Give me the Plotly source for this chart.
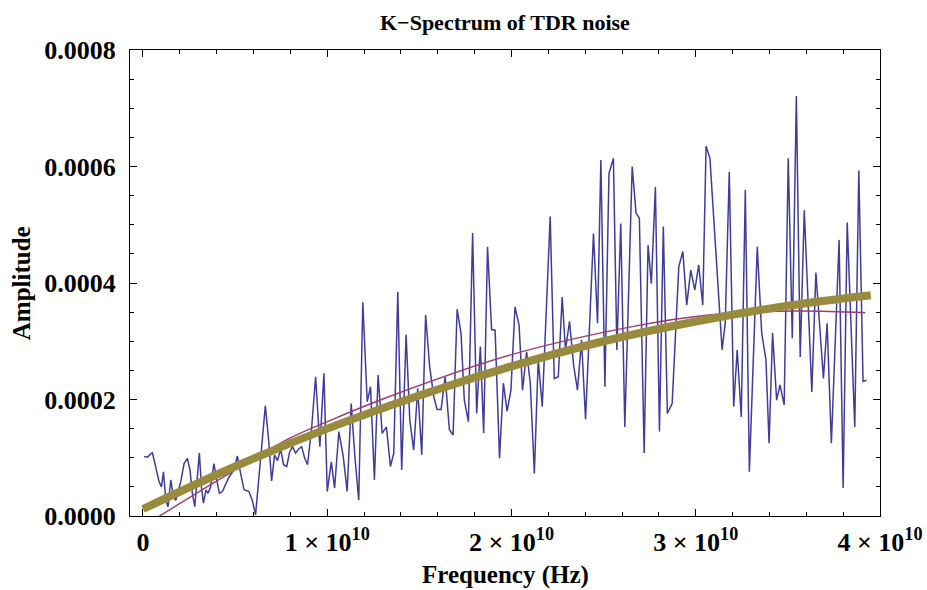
import numpy as np
import plotly.graph_objects as go

# ---- data (frequency in units of 1e10 Hz, amplitude in units of 1e-4) ----
noise_freq_e10 = [
    0.006, 0.024, 0.051, 0.069, 0.087, 0.100, 0.111, 0.124, 0.136, 0.151,
    0.165, 0.178, 0.205, 0.223, 0.241, 0.255, 0.268, 0.281, 0.295, 0.306,
    0.317, 0.328, 0.342, 0.353, 0.367, 0.385, 0.400, 0.415, 0.431, 0.449,
    0.467, 0.494, 0.512, 0.530, 0.548, 0.575, 0.593, 0.611, 0.664, 0.682,
    0.698, 0.714, 0.730, 0.747, 0.763, 0.780, 0.796, 0.812, 0.828, 0.845,
    0.861, 0.877, 0.893, 0.915, 0.937, 0.960, 0.982, 1.000, 1.022, 1.040,
    1.063, 1.087, 1.108, 1.130, 1.150, 1.171, 1.193, 1.217, 1.235, 1.256,
    1.276, 1.298, 1.321, 1.343, 1.361, 1.383, 1.404, 1.428, 1.448, 1.469,
    1.491, 1.513, 1.534, 1.556, 1.578, 1.596, 1.618, 1.640, 1.663, 1.683,
    1.705, 1.726, 1.744, 1.766, 1.789, 1.811, 1.831, 1.849, 1.870, 1.892,
    1.911, 1.935, 1.956, 1.976, 1.997, 2.019, 2.041, 2.060, 2.082, 2.102,
    2.124, 2.145, 2.167, 2.210, 2.232, 2.254, 2.275, 2.293, 2.315, 2.337,
    2.358, 2.380, 2.402, 2.445, 2.467, 2.485, 2.507, 2.529, 2.553, 2.572,
    2.593, 2.615, 2.655, 2.676, 2.694, 2.720, 2.741, 2.759, 2.781, 2.803,
    2.824, 2.846, 2.872, 2.908, 2.930, 2.951, 2.973, 2.995, 3.016, 3.038,
    3.056, 3.077, 3.115, 3.143, 3.160, 3.182, 3.206, 3.225, 3.247, 3.269,
    3.291, 3.334, 3.358, 3.381, 3.398, 3.417, 3.439, 3.457, 3.480, 3.502,
    3.524, 3.546, 3.567, 3.589, 3.630, 3.652, 3.693, 3.713, 3.736, 3.778,
    3.800, 3.822, 3.863, 3.885, 3.908, 3.927,
]
noise_amp_e4 = [
    1.02, 1.01, 1.09, 0.82, 0.59, 0.50, 0.76, 0.27, 0.16, 0.62,
    0.33, 0.27, 0.59, 0.90, 0.99, 0.79, 0.39, 0.16, 0.73, 1.08,
    0.50, 0.22, 0.45, 0.39, 0.50, 0.90, 0.62, 0.39, 0.42, 0.56,
    0.67, 0.79, 1.03, 0.73, 0.45, 0.42, 0.27, 0.02, 1.89, 1.30,
    0.60, 1.05, 0.95, 1.15, 0.88, 0.85, 1.10, 1.19, 1.08, 1.15,
    1.19, 1.00, 0.88, 1.50, 2.39, 1.19, 2.45, 0.42, 0.93, 0.48,
    1.45, 1.02, 0.42, 1.93, 1.02, 0.27, 3.67, 1.96, 2.22, 0.62,
    2.42, 1.42, 1.53, 0.85, 1.08, 3.85, 0.79, 3.11, 1.65, 1.13,
    2.19, 1.05, 3.45, 2.56, 2.05, 1.83, 1.83, 2.39, 1.48, 1.39,
    3.55, 3.14, 1.99, 1.62, 4.86, 1.76, 2.91, 1.42, 4.62, 3.20,
    3.19, 0.99, 2.28, 1.80, 2.16, 3.59, 3.28, 2.16, 2.82, 2.28,
    0.73, 2.68, 1.88, 5.14, 2.36, 2.39, 3.76, 2.85, 3.34, 2.59,
    2.16, 3.02, 1.66, 4.85, 3.31, 6.11, 2.22, 5.88, 6.14, 2.85,
    5.02, 1.53, 6.00, 5.20, 5.11, 1.08, 4.65, 3.99, 5.65, 1.45,
    4.97, 1.76, 1.93, 4.28, 4.54, 3.62, 4.22, 3.88, 4.31, 3.62,
    6.35, 6.14, 4.30, 2.85, 3.31, 5.91, 1.88, 2.85, 1.70, 5.60,
    0.76, 4.62, 3.14, 2.68, 1.25, 3.14, 1.99, 2.25, 1.91, 6.14,
    3.05, 7.21, 2.73, 5.25, 2.13, 4.18, 2.36, 3.31, 1.25, 4.74,
    0.48, 5.04, 1.53, 5.93, 2.31, 2.33,
]

# thin magenta model curve
model_freq_e10 = [0.0, 0.09, 0.41, 0.80, 1.00, 1.32, 2.00, 2.67, 3.07, 3.54, 3.92]
model_amp_e4 = [-0.17, 0.0, 0.62, 1.34, 1.62, 2.03, 2.77, 3.26, 3.45, 3.52, 3.49]

# thick olive fit curve
fit_freq_e10 = [0.0, 0.5, 1.0, 1.5, 2.0, 2.5, 3.0, 3.5, 3.95]
fit_amp_e4 = [0.12, 0.85, 1.50, 2.07, 2.57, 3.00, 3.34, 3.61, 3.79]

x_tick_vals_e10 = [0, 1, 2, 3, 4]
x_tick_mantissas = ["1", "2", "3", "4"]
y_tick_vals_e4 = [0, 2, 4, 6, 8]

title_text = "K−Spectrum of TDR noise"
x_title = "Frequency (Hz)"
y_title = "Amplitude"

E10 = 1e10
E4 = 1e-4

BLUE = "rgb(63,61,153)"
MAGENTA = "rgb(153,61,113)"
OLIVE = "rgb(153,139,61)"
FONT = "Liberation Serif"

x_tick_text = ["0"] + [f"{m} × 10<sup>10</sup>" for m in x_tick_mantissas]

fig = go.Figure()
fig.add_trace(go.Scatter(
    x=np.array(noise_freq_e10) * E10, y=np.array(noise_amp_e4) * E4,
    mode="lines", line=dict(color=BLUE, width=1.5), hoverinfo="skip"))
fig.add_trace(go.Scatter(
    x=np.array(model_freq_e10) * E10, y=np.array(model_amp_e4) * E4,
    mode="lines", line=dict(color=MAGENTA, width=1.4, shape="spline"), hoverinfo="skip"))
fig.add_trace(go.Scatter(
    x=np.array(fit_freq_e10) * E10, y=np.array(fit_amp_e4) * E4,
    mode="lines", line=dict(color=OLIVE, width=8, shape="spline"), hoverinfo="skip"))

tickfont = dict(family=FONT, size=26, color="black", weight="bold")

fig.update_xaxes(
    range=[-0.0705 * E10, 4.0 * E10],
    tickmode="array",
    tickvals=[v * E10 for v in x_tick_vals_e10],
    ticktext=x_tick_text,
    ticks="inside", ticklen=7, tickwidth=1, tickcolor="black",
    mirror="allticks", showline=True, linecolor="black", linewidth=1,
    showgrid=False, zeroline=False, automargin=False,
    minor=dict(tickmode="linear", tick0=0, dtick=0.2 * E10,
               ticks="inside", ticklen=4, tickwidth=1, tickcolor="black",
               showgrid=False),
    tickfont=tickfont, ticklabelstandoff=3,
)
fig.update_yaxes(
    range=[0, 8 * E4],
    tickmode="array",
    tickvals=[v * E4 for v in y_tick_vals_e4],
    tickformat=".4f",
    ticks="inside", ticklen=7, tickwidth=1, tickcolor="black",
    mirror="allticks", showline=True, linecolor="black", linewidth=1,
    showgrid=False, zeroline=False, automargin=False,
    minor=dict(tickmode="linear", tick0=0, dtick=0.5 * E4,
               ticks="inside", ticklen=4, tickwidth=1, tickcolor="black",
               showgrid=False),
    tickfont=tickfont, ticklabelstandoff=8,
)

fig.update_layout(
    width=927, height=590,
    margin=dict(l=130, r=47, t=50, b=74, autoexpand=False),
    showlegend=False,
    plot_bgcolor="white", paper_bgcolor="white",
    font=dict(family=FONT, color="black"),
    annotations=[
        dict(text=title_text, xref="paper", yref="paper", x=0.5, y=1.060,
             xanchor="center", yanchor="middle", showarrow=False,
             font=dict(family=FONT, size=22, color="black", weight="bold")),
        dict(text=x_title, xref="paper", yref="paper", x=0.5, y=-0.126,
             xanchor="center", yanchor="middle", showarrow=False,
             font=dict(family=FONT, size=25, color="black", weight="bold")),
        dict(text=y_title, xref="paper", yref="paper", x=-0.145, y=0.5,
             xanchor="center", yanchor="middle", showarrow=False, textangle=-90,
             font=dict(family=FONT, size=25, color="black", weight="bold")),
    ],
)

fig.write_html(
    "out.html",
    config={"displayModeBar": False},
    post_script="document.body.style.margin='0';document.body.style.overflow='hidden';",
)
